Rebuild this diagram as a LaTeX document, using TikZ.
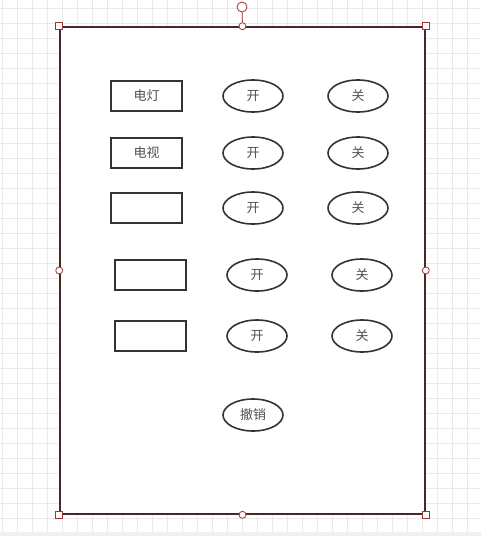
\documentclass[tikz,border=0pt]{standalone}
\usepackage{fontspec}
\newfontfamily\cjk{Noto Sans CJK SC}
\usetikzlibrary{shapes.geometric}
\definecolor{inkdark}{RGB}{51,51,51}
\definecolor{labelgray}{RGB}{80,80,80}
\definecolor{framebrown}{RGB}{74,40,40}
\definecolor{handlered}{RGB}{160,50,50}
\definecolor{gridgray}{RGB}{234,234,234}
\begin{document}
\begin{tikzpicture}[x=1pt,y=-1pt,font=\cjk\fontsize{13}{15}\selectfont,
  device/.style={draw=inkdark,line width=1.6pt,minimum width=71pt,minimum height=30pt,inner sep=0pt,text=labelgray},
  switch/.style={ellipse,draw=inkdark,line width=1.6pt,minimum width=60pt,minimum height=32pt,inner sep=0pt,text=labelgray},
  corner/.style={draw=handlered,fill=white,line width=0.8pt,minimum size=7pt,inner sep=0pt},
  midpt/.style={circle,draw=handlered,fill=white,line width=0.8pt,minimum size=7pt,inner sep=0pt}]

% canvas with grid
\useasboundingbox (0,0) rectangle (481,536);
\fill[white] (0,0) rectangle (481,536);
\foreach \gx in {2.7,17.7,...,480}
  \draw[gridgray,line width=0.8pt] (\gx,0)--(\gx,532);
\foreach \gy in {8.3,23.3,...,532}
  \draw[gridgray,line width=0.8pt] (0,\gy)--(481,\gy);
\fill[black!6] (0,532) rectangle (481,536);

% the remote panel
\node[draw=framebrown,fill=white,line width=1.6pt,minimum width=365pt,minimum height=487pt,inner sep=0pt]
  (panel) at (242.5,270.5) {};

% device rows
\node[device] (light) at (146.5,96) {电灯};
\node[device] (tv) at (146.5,153) {电视};
\node[device] (dev3) at (146.5,208) {};
\node[device] (dev4) at (150.5,275) {};
\node[device] (dev5) at (150.5,336) {};
\node[switch] (lighton) at (253,96) {开};
\node[switch] (lightoff) at (358,96) {关};
\node[switch] (tvon) at (253,153) {开};
\node[switch] (tvoff) at (358,153) {关};
\node[switch] (dev3on) at (253,208) {开};
\node[switch] (dev3off) at (358,208) {关};
\node[switch] (dev4on) at (257,275) {开};
\node[switch] (dev4off) at (362,275) {关};
\node[switch] (dev5on) at (257,336) {开};
\node[switch] (dev5off) at (362,336) {关};
\node[switch] (undo) at (253,415) {撤销};

% selection handles
\node[corner] (hnw) at (panel.north west) {};
\node[corner] (hne) at (panel.north east) {};
\node[corner] (hsw) at (panel.south west) {};
\node[corner] (hse) at (panel.south east) {};
\node[midpt] (hn) at (panel.north) {};
\node[midpt] (hs) at (panel.south) {};
\node[midpt] (hw) at (panel.west) {};
\node[midpt] (he) at (panel.east) {};
\node[midpt,minimum size=10pt] (rot) at (242,7) {};
\draw[handlered,line width=0.8pt] (rot)--(hn);
\end{tikzpicture}
\end{document}
